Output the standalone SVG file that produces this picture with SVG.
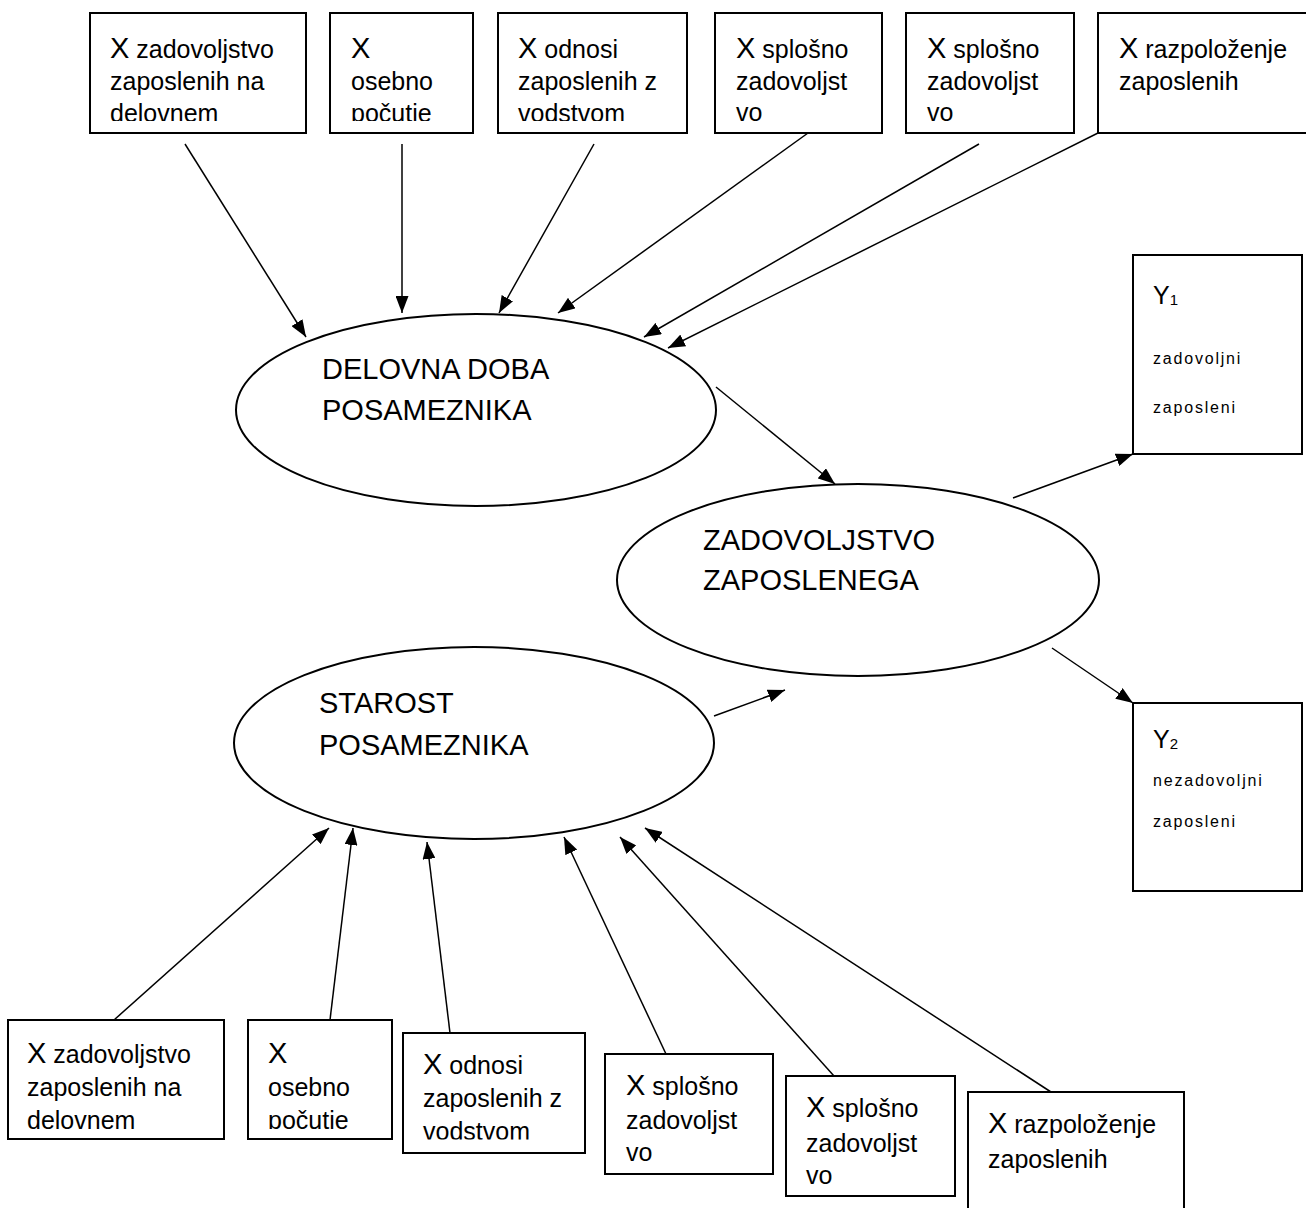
<svg xmlns="http://www.w3.org/2000/svg" width="1306" height="1208" viewBox="0 0 1306 1208">
<style>
.box{fill:#fff;stroke:#000;stroke-width:2}
.ell{fill:#fff;stroke:#000;stroke-width:2}
text{font-family:"Liberation Sans",Arial,sans-serif;fill:#000}
.t{font-size:25px}
.x{font-size:29px}
.et{font-size:29px}
.yt{font-size:25px}
.sub{font-size:15px}
.ys{font-size:16px;letter-spacing:1.8px}
.con line{stroke:#000;stroke-width:1.5;marker-end:url(#ah)}
</style>
<defs>
<marker id="ah" markerUnits="userSpaceOnUse" markerWidth="18" markerHeight="13" refX="17" refY="6.5" orient="auto">
<path d="M0,0 L17,6.5 L0,13 z" fill="#000"/>
</marker>
<clipPath id="c1"><rect x="90" y="13" width="216" height="108"/></clipPath>
<clipPath id="c2"><rect x="330" y="13" width="143" height="108"/></clipPath>
<clipPath id="c3"><rect x="498" y="13" width="189" height="108"/></clipPath>
<clipPath id="d1"><rect x="8" y="1020" width="216" height="109"/></clipPath>
<clipPath id="d2"><rect x="248" y="1020" width="144" height="109"/></clipPath>
<clipPath id="d3"><rect x="403" y="1033" width="182" height="106.5"/></clipPath>
</defs>
<rect width="1306" height="1208" fill="#fff"/>

<g id="top1"><rect class="box" x="90" y="13" width="216" height="120"/>
<g clip-path="url(#c1)"><text class="t" x="110" y="58"><tspan class="x">X</tspan> zadovoljstvo</text><text class="t" x="110" y="90">zaposlenih na</text><text class="t" x="110" y="122">delovnem</text></g></g>
<g id="top2"><rect class="box" x="330" y="13" width="143" height="120"/>
<g clip-path="url(#c2)"><text class="t" x="351" y="58"><tspan class="x">X</tspan></text><text class="t" x="351" y="90">osebno</text><text class="t" x="351" y="122">počutje</text></g></g>
<g id="top3"><rect class="box" x="498" y="13" width="189" height="120"/>
<g clip-path="url(#c3)"><text class="t" x="518" y="58"><tspan class="x">X</tspan> odnosi</text><text class="t" x="518" y="90">zaposlenih z</text><text class="t" x="518" y="122">vodstvom</text></g></g>
<g id="top4"><rect class="box" x="715" y="13" width="167" height="120"/>
<text class="t" x="736" y="58"><tspan class="x">X</tspan> splošno</text><text class="t" x="736" y="90">zadovoljst</text><text class="t" x="736" y="121">vo</text></g>
<g id="top5"><rect class="box" x="906" y="13" width="168" height="120"/>
<text class="t" x="927" y="58"><tspan class="x">X</tspan> splošno</text><text class="t" x="927" y="90">zadovoljst</text><text class="t" x="927" y="121">vo</text></g>
<g id="top6"><rect class="box" x="1098" y="13" width="230" height="120"/>
<text class="t" x="1119" y="58"><tspan class="x">X</tspan> razpoloženje</text><text class="t" x="1119" y="90">zaposlenih</text></g>

<g id="delovna"><ellipse class="ell" cx="476" cy="410" rx="240" ry="96"/>
<text class="et" x="322" y="379">DELOVNA DOBA</text><text class="et" x="322" y="420">POSAMEZNIKA</text></g>
<g id="zadovoljstvo"><ellipse class="ell" cx="858" cy="580" rx="241" ry="96"/>
<text class="et" x="703" y="550">ZADOVOLJSTVO</text><text class="et" x="703" y="590">ZAPOSLENEGA</text></g>
<g id="starost"><ellipse class="ell" cx="474" cy="743" rx="240" ry="96"/>
<text class="et" x="319" y="713">STAROST</text><text class="et" x="319" y="755">POSAMEZNIKA</text></g>

<g id="y1"><rect class="box" x="1133" y="255" width="169" height="199"/>
<text class="yt" x="1153" y="304">Y<tspan class="sub" dy="1">1</tspan></text>
<text class="ys" x="1153" y="364">zadovoljni</text><text class="ys" x="1153" y="413">zaposleni</text></g>
<g id="y2"><rect class="box" x="1133" y="703" width="169" height="188"/>
<text class="yt" x="1153" y="748">Y<tspan class="sub" dy="1">2</tspan></text>
<text class="ys" x="1153" y="786">nezadovoljni</text><text class="ys" x="1153" y="827">zaposleni</text></g>

<g id="bot1"><rect class="box" x="8" y="1020" width="216" height="119"/>
<g clip-path="url(#d1)"><text class="t" x="27" y="1063"><tspan class="x">X</tspan> zadovoljstvo</text><text class="t" x="27" y="1096">zaposlenih na</text><text class="t" x="27" y="1129">delovnem</text></g></g>
<g id="bot2"><rect class="box" x="248" y="1020" width="144" height="119"/>
<g clip-path="url(#d2)"><text class="t" x="268" y="1063"><tspan class="x">X</tspan></text><text class="t" x="268" y="1096">osebno</text><text class="t" x="268" y="1129">počutje</text></g></g>
<g id="bot3"><rect class="box" x="403" y="1033" width="182" height="120"/>
<g clip-path="url(#d3)"><text class="t" x="423" y="1074"><tspan class="x">X</tspan> odnosi</text><text class="t" x="423" y="1107">zaposlenih z</text><text class="t" x="423" y="1140">vodstvom</text></g></g>
<g id="bot4"><rect class="box" x="605" y="1054" width="168" height="120"/>
<text class="t" x="626" y="1095"><tspan class="x">X</tspan> splošno</text><text class="t" x="626" y="1129">zadovoljst</text><text class="t" x="626" y="1161">vo</text></g>
<g id="bot5"><rect class="box" x="786" y="1076" width="169" height="120"/>
<text class="t" x="806" y="1117"><tspan class="x">X</tspan> splošno</text><text class="t" x="806" y="1152">zadovoljst</text><text class="t" x="806" y="1184">vo</text></g>
<g id="bot6"><rect class="box" x="968" y="1092" width="216" height="140"/>
<text class="t" x="988" y="1133"><tspan class="x">X</tspan> razpoloženje</text><text class="t" x="988" y="1168">zaposlenih</text></g>

<g id="connectors" class="con">
<line x1="185" y1="144" x2="306" y2="337"/>
<line x1="402" y1="144" x2="402" y2="313"/>
<line x1="594" y1="144" x2="499" y2="313"/>
<line x1="808" y1="133" x2="558" y2="313"/>
<line x1="979" y1="144" x2="644" y2="337"/>
<line x1="1098" y1="133" x2="668" y2="348"/>
<line x1="716" y1="387" x2="835" y2="484"/>
<line x1="1013" y1="498" x2="1133" y2="454"/>
<line x1="1052" y1="648" x2="1133" y2="703"/>
<line x1="714" y1="716" x2="785" y2="690"/>
<line x1="114" y1="1020" x2="329" y2="828"/>
<line x1="330" y1="1020" x2="353" y2="828"/>
<line x1="450" y1="1033" x2="427" y2="842"/>
<line x1="666" y1="1054" x2="564" y2="837"/>
<line x1="834" y1="1076" x2="620" y2="837"/>
<line x1="1051" y1="1092" x2="645" y2="828"/>
</g>
</svg>
